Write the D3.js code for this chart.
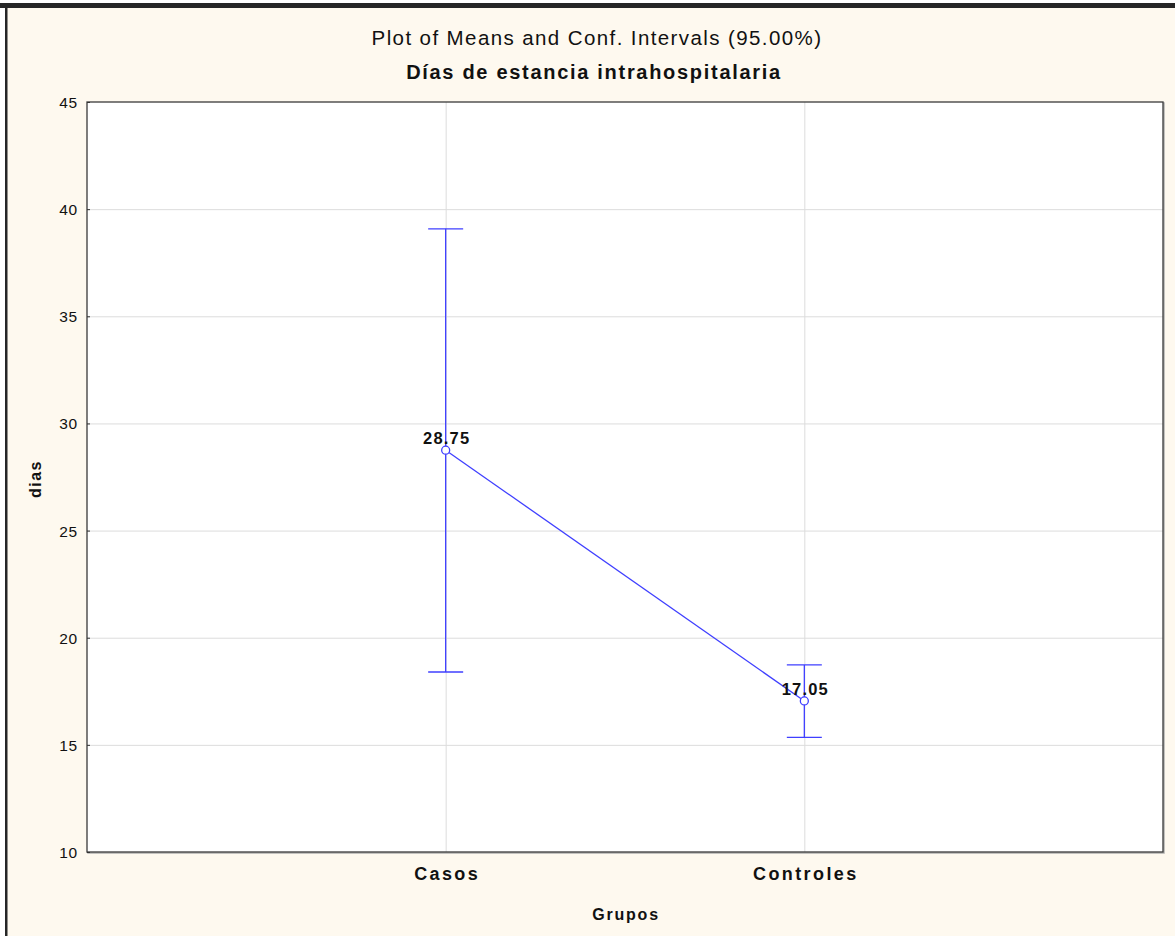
<!DOCTYPE html>
<html>
<head>
<meta charset="utf-8">
<script src="https://cdn.jsdelivr.net/npm/d3@7"></script>
<style>
html,body{margin:0;padding:0;background:#ffffff;}
svg{display:block;font-family:"Liberation Sans",Arial,Helvetica,sans-serif;}
</style>
</head>
<body>
<svg id="chart" width="1175" height="936"></svg>
<script>
const categories = ["Casos", "Controles"];
const means = [28.75, 17.05];
const upper = [39.08, 18.73];
const lower = [18.40, 15.35];
const yTicks = [10, 15, 20, 25, 30, 35, 40, 45];
const titleText = "Plot of Means and Conf. Intervals (95.00%)";
const subtitleText = "Días de estancia intrahospitalaria";
const xLabel = "Grupos";
const yLabel = "dias";

const W = 1175, H = 936;
const m = {left: 87, right: 1163, top: 102, bottom: 852};
const blue = "#3f3fff";

const svg = d3.select("#chart");

// frame
svg.append("rect").attr("x", 0).attr("y", 0).attr("width", W).attr("height", H).attr("fill", "#ffffff");
svg.append("rect").attr("x", 7).attr("y", 8).attr("width", W - 7).attr("height", H - 8).attr("fill", "#fef9ef");
svg.append("rect").attr("x", 0).attr("y", 3).attr("width", W).attr("height", 5).attr("fill", "#262626");
svg.append("rect").attr("x", 5).attr("y", 3).attr("width", 2.5).attr("height", H).attr("fill", "#262626");

const x = d3.scalePoint().domain(["", ...categories, " "]).range([m.left, m.right]);
const y = d3.scaleLinear().domain([10, 45]).range([m.bottom, m.top]);

// plot area
svg.append("rect").attr("x", m.left + 1).attr("y", m.top + 1)
  .attr("width", m.right - m.left).attr("height", m.bottom - m.top)
  .attr("fill", "none").attr("stroke", "#b0b0b0").attr("stroke-width", 1.5);
svg.append("rect").attr("x", m.left).attr("y", m.top)
  .attr("width", m.right - m.left).attr("height", m.bottom - m.top)
  .attr("fill", "#ffffff");

// grid
svg.append("g").selectAll("line.h").data(yTicks.filter(t => t > 10 && t < 45)).join("line")
  .attr("x1", m.left).attr("x2", m.right)
  .attr("y1", d => y(d) + 0.5).attr("y2", d => y(d) + 0.5)
  .attr("stroke", "#dcdcdc").attr("stroke-width", 1);
svg.append("g").selectAll("line.v").data(categories).join("line")
  .attr("x1", d => x(d) + 0.5).attr("x2", d => x(d) + 0.5)
  .attr("y1", m.top).attr("y2", m.bottom)
  .attr("stroke", "#dcdcdc").attr("stroke-width", 1);

svg.append("rect").attr("x", m.left).attr("y", m.top)
  .attr("width", m.right - m.left).attr("height", m.bottom - m.top)
  .attr("fill", "none").attr("stroke", "#3a3a3a").attr("stroke-width", 1.3);

// y axis
const yAxis = d3.axisRight(y).tickValues(yTicks).tickSize(3).tickFormat(d3.format("d"));
const gy = svg.append("g").attr("transform", `translate(${m.left},0)`).call(yAxis);
gy.select(".domain").remove();
gy.selectAll(".tick line").attr("stroke", "#333");
gy.selectAll(".tick text").attr("x", -9).attr("text-anchor", "end")
  .attr("font-size", 15.5).attr("letter-spacing", "0.8px").attr("fill", "#111").attr("dy", "0.35em");

// x axis labels
const xAxis = d3.axisBottom(x).tickValues(categories).tickSize(0).tickPadding(15);
const gx = svg.append("g").attr("transform", `translate(0,${m.bottom})`).call(xAxis);
gx.select(".domain").remove();
gx.selectAll(".tick text").attr("font-size", 18).attr("font-weight", "bold")
  .attr("fill", "#111").attr("letter-spacing", "2.4px").attr("dx", "1px").attr("dy", "0.71em");

// titles
svg.append("text").attr("x", 597).attr("y", 45).attr("text-anchor", "middle")
  .attr("font-size", 20.5).attr("letter-spacing", "1.4px").attr("fill", "#111").text(titleText);
svg.append("text").attr("x", 594).attr("y", 79).attr("text-anchor", "middle")
  .attr("font-size", 20).attr("font-weight", "bold").attr("letter-spacing", "1.7px").attr("fill", "#111").text(subtitleText);
svg.append("text").attr("x", (m.left + m.right) / 2 + 1).attr("y", 920).attr("text-anchor", "middle")
  .attr("font-size", 16).attr("font-weight", "bold").attr("letter-spacing", "1.8px").attr("fill", "#111").text(xLabel);
svg.append("text").attr("transform", `translate(41,479) rotate(-90)`).attr("text-anchor", "middle")
  .attr("font-size", 16).attr("font-weight", "bold").attr("letter-spacing", "1.5px").attr("fill", "#111").text(yLabel);

// data
const data = categories.map((c, i) => ({c, mean: means[i], hi: upper[i], lo: lower[i]}));
const g = svg.append("g");
const capW = 17.5;
g.selectAll("line.err").data(data).join("line")
  .attr("x1", d => x(d.c)).attr("x2", d => x(d.c))
  .attr("y1", d => y(d.hi)).attr("y2", d => y(d.lo))
  .attr("stroke", blue).attr("stroke-width", 1.3);
g.selectAll("line.capH").data(data).join("line")
  .attr("x1", d => x(d.c) - capW).attr("x2", d => x(d.c) + capW)
  .attr("y1", d => y(d.hi)).attr("y2", d => y(d.hi))
  .attr("stroke", blue).attr("stroke-width", 1.3);
g.selectAll("line.capL").data(data).join("line")
  .attr("x1", d => x(d.c) - capW).attr("x2", d => x(d.c) + capW)
  .attr("y1", d => y(d.lo)).attr("y2", d => y(d.lo))
  .attr("stroke", blue).attr("stroke-width", 1.3);
g.append("path").datum(data)
  .attr("d", d3.line().x(d => x(d.c)).y(d => y(d.mean)))
  .attr("fill", "none").attr("stroke", blue).attr("stroke-width", 1.3);
g.selectAll("circle").data(data).join("circle")
  .attr("cx", d => x(d.c)).attr("cy", d => y(d.mean)).attr("r", 4)
  .attr("fill", "#ffffff").attr("stroke", blue).attr("stroke-width", 1.3);
g.selectAll("text.val").data(data).join("text")
  .attr("x", d => x(d.c) + 1).attr("y", d => y(d.mean) - 6)
  .attr("text-anchor", "middle").attr("font-size", 16.5).attr("font-weight", "bold")
  .attr("letter-spacing", "1.2px").attr("fill", "#111").text(d => d3.format(".2f")(d.mean));
</script>
</body>
</html>
